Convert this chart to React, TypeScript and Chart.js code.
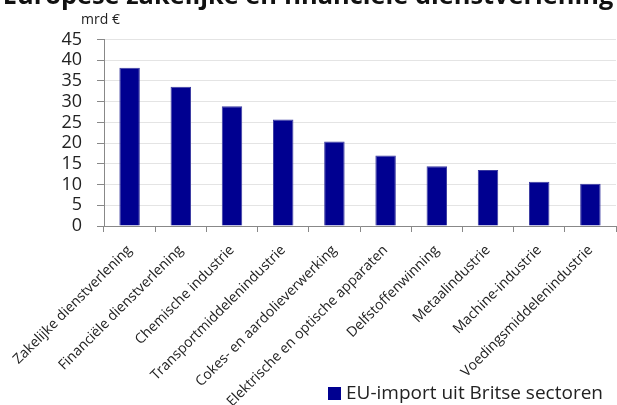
import React, { useEffect, useRef } from "react";
import { Chart, registerables } from "chart.js";

Chart.register(...registerables);

const TITLE = "Europese zakelijke en financiële dienstverlening";
const UNIT = "mrd €";
const SERIES_NAME = "EU-import uit Britse sectoren";
const categories = [
  "Zakelijke dienstverlening",
  "Financiële dienstverlening",
  "Chemische industrie",
  "Transportmiddelenindustrie",
  "Cokes- en aardolieverwerking",
  "Elektrische en optische apparaten",
  "Delfstoffenwinning",
  "Metaalindustrie",
  "Machine-industrie",
  "Voedingsmiddelenindustrie",
];
const values = [38.2, 33.6, 28.9, 25.7, 20.4, 17.0, 14.4, 13.5, 10.7, 10.2];

const FONT = "'Open Sans', 'Noto Sans', sans-serif";
const BAR_COLOR = "#000090";
const OFFSET = 16;

export default function App() {
  const ref = useRef<HTMLCanvasElement>(null);
  useEffect(() => {
    if (!ref.current) return;
    const overlayPlugin = {
      id: "overlayTexts",
      afterDraw(chart: any) {
        const ctx = chart.ctx;
        ctx.save();
        // unit label
        ctx.font = `14px ${FONT}`;
        ctx.fillStyle = "#222";
        ctx.textBaseline = "alphabetic";
        ctx.textAlign = "left";
        ctx.fillText(UNIT, 81, 24 + OFFSET);
        // legend
        const ds = chart.data.datasets[0];
        ctx.fillStyle = ds.backgroundColor;
        ctx.fillRect(328, 387 + OFFSET, 13, 13);
        ctx.font = `19px ${FONT}`;
        ctx.fillStyle = "#222";
        ctx.textBaseline = "middle";
        ctx.fillText(ds.label, 346, 393.5 + OFFSET);
        ctx.restore();
      },
    };
    const chart = new Chart(ref.current, {
      type: "bar",
      data: {
        labels: categories,
        datasets: [
          {
            label: SERIES_NAME,
            data: values,
            backgroundColor: BAR_COLOR,
            borderColor: "#3a3aa0",
            borderWidth: 1,
            barPercentage: 0.4,
            categoryPercentage: 1,
          },
        ],
      },
      plugins: [overlayPlugin],
      options: {
        animation: false,
        responsive: true,
        maintainAspectRatio: false,
        layout: { padding: { left: 0, right: 1, top: 0, bottom: 0 } },
        plugins: {
          title: {
            display: true,
            text: TITLE,
            color: "#111",
            font: { family: FONT, size: 25.4, weight: "bold" },
            padding: { top: -2, bottom: 27 },
          },
          legend: { display: false },
          tooltip: { enabled: false },
        },
        scales: {
          x: {
            grid: {
              display: true,
              drawOnChartArea: false,
              drawTicks: true,
              tickLength: 6,
              tickColor: "#888",
              offset: true,
            },
            border: { display: true, color: "#888" },
            ticks: {
              autoSkip: false,
              maxRotation: 45,
              minRotation: 45,
              color: "#222",
              font: { family: FONT, size: 14 },
              padding: 10,
            },
            afterFit: (scale: any) => {
              scale.height = 179;
            },
          },
          y: {
            min: 0,
            max: 45,
            grid: {
              color: "#e4e4e4",
              tickColor: "#888",
              tickLength: 7,
              lineWidth: 1,
            },
            border: { display: true, color: "#888" },
            ticks: {
              stepSize: 5,
              autoSkip: false,
              color: "#222",
              font: { family: FONT, size: 18 },
              padding: 15,
            },
            afterFit: (scale: any) => {
              scale.width = 104;
            },
          },
        },
      },
    });
    return () => chart.destroy();
  }, []);
  return (
    <div
      style={{
        position: "absolute",
        left: 0,
        top: -OFFSET,
        width: 617,
        height: 405 + OFFSET,
      }}
    >
      <canvas ref={ref} />
    </div>
  );
}
